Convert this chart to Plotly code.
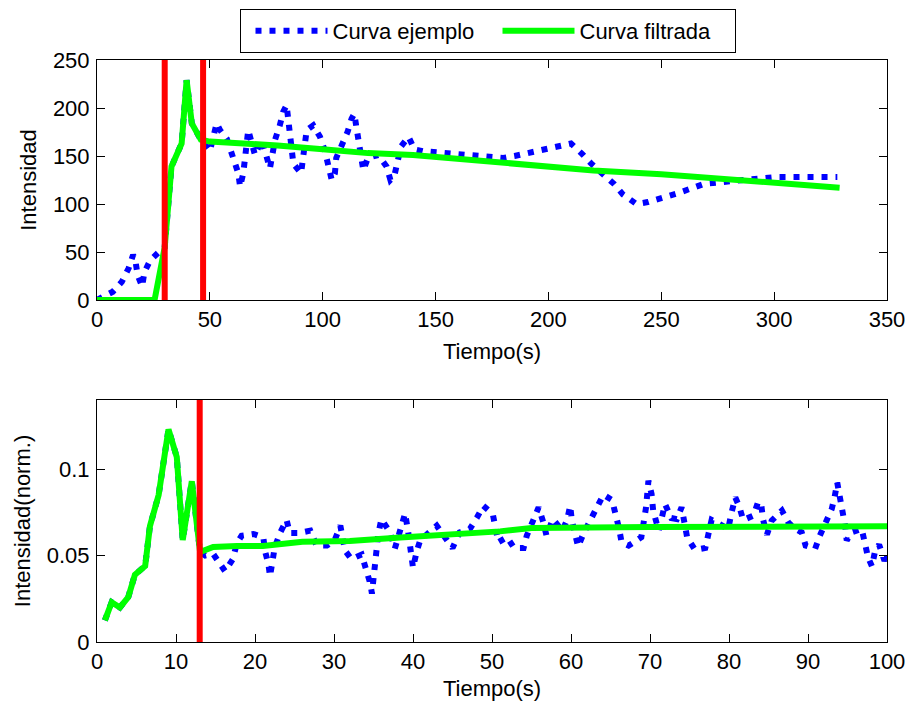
import plotly.graph_objects as go

# ---------------- data: top panel ----------------
top_raw_x = [0, 7, 11, 14, 16, 17, 18, 20, 21, 23.5, 27, 30, 33, 37.5, 39.7, 42, 46, 50, 53, 54.5,
             57.5, 61, 62.6, 63.4, 64.8, 65.6, 67, 70, 73, 76.6, 78.9, 81, 82.5, 84, 84.8, 85.5, 87,
             90.4, 91.4, 92.9, 95.8, 98.8, 101, 102.4, 104, 105.4, 106, 108.4, 111, 112.8, 114, 115,
             116, 117, 118, 120, 124.6, 128.3, 130, 131.7, 133, 134.7, 138, 140.6, 144.4, 160, 172,
             180, 185, 197, 210, 215, 219, 229, 233, 239, 244, 257, 269, 282, 301, 328]
top_raw_y = [0, 8.6, 19, 33, 47, 41, 26, 14, 29, 41, 49, 55, 139, 163, 229, 184, 167, 155, 184, 177,
             168, 146, 132, 118, 132, 148, 177, 151, 167, 137, 167, 182, 196, 203, 187, 172, 142,
             132, 148, 177, 182, 170, 155, 141, 125, 132, 148, 161, 175, 189, 194, 179,
             163, 148, 135, 148, 151, 139, 125, 129, 144, 160, 170, 157, 155, 152, 149,
             148, 150, 156, 163, 152, 142, 121, 110, 100, 102, 111, 121, 124, 128, 128]

top_filt_x = [0, 25.5, 30, 33, 37.5, 39.7, 42, 46, 50, 60, 80, 100, 120, 140, 160, 180, 200, 220,
              250, 280, 300, 329]
top_filt_y = [0, 0, 55, 139, 163, 229, 184, 167, 165, 164, 161, 157, 153, 151, 147, 143, 139, 135,
              131, 126, 123, 117]

top_marks = [30, 47]
top_yrange = [0, 250]
top_xticks = [0, 50, 100, 150, 200, 250, 300, 350]
top_yticks = [0, 50, 100, 150, 200, 250]

# ---------------- data: bottom panel ----------------
bot_raw_x = [1, 1.86, 2.9, 3.96, 4.8, 6.1, 6.7, 7.8, 9.05, 10.1, 10.85, 12, 13.05,
             13.7, 14.7, 15.6, 16.2, 17.2, 17.7, 18.3, 19.8, 21.05, 21.3, 21.7, 21.9, 22.5, 23.2, 24,
             24.4, 25.5, 27, 27.8, 29.1, 30.1, 30.8, 31.4, 32.2, 33.5, 34.1, 34.6, 34.8, 35.2, 35.6,
             36, 37.1, 37.7, 38.6, 39, 39.4, 39.8, 40, 40.5, 40.9, 43, 44.3, 45, 45.9, 47.2, 48.1,
             48.9, 50.1, 50.5, 50.8, 51.9, 52.8, 54, 54.4, 55.2, 55.9, 56.5, 56.9, 57.7, 58.9, 59.5,
             59.9, 60.1, 60.6, 60.9, 61.6, 62.4, 63.3, 64.1, 65.2, 65.7, 66.1, 66.4, 67.3, 68.3, 68.9,
             69.2, 69.5, 69.8, 70.2, 70.4, 71.1, 71.5, 71.9, 72.7, 73.4, 74, 74.4, 74.7, 75.7, 77,
             77.4, 77.8, 78.4, 79.9, 80.3, 80.8, 81.3, 81.8, 83.1, 83.7, 84.1, 84.3, 84.8, 85.4, 86.7,
             87.5, 88.4, 89.2, 89.7, 90.9, 91.5, 92.4, 93, 93.4, 93.7, 94, 94.4, 94.7, 94.9, 95.5,
             96.8, 97.2, 97.6, 98.1, 98.5, 99, 99.6, 100]
bot_raw_y = [0.0125, 0.023, 0.020, 0.026, 0.039, 0.044, 0.067, 0.085, 0.123, 0.107, 0.059, 0.093, 0.052,
             0.050, 0.051, 0.045, 0.041, 0.048, 0.057, 0.0615, 0.0625, 0.0605, 0.052, 0.045, 0.038,
             0.0548, 0.0634, 0.0706, 0.063, 0.063, 0.0644, 0.0558, 0.0558, 0.059, 0.0673, 0.0529,
             0.048, 0.0506, 0.0423, 0.0337, 0.028, 0.046, 0.0625, 0.071, 0.0634, 0.054, 0.0673,
             0.0744, 0.0634, 0.050, 0.043, 0.0529, 0.0587, 0.0673, 0.0596, 0.0544, 0.0634, 0.0654,
             0.072, 0.0788, 0.074, 0.0654, 0.0577, 0.0606, 0.0544, 0.0544, 0.0615, 0.0702, 0.0779,
             0.0692, 0.0615, 0.0711, 0.0644, 0.0706, 0.0788, 0.0706, 0.0615, 0.0552, 0.0629, 0.0706,
             0.0779, 0.0852, 0.0821, 0.074, 0.0654, 0.0577, 0.0558, 0.0587, 0.0606, 0.0692, 0.0779,
             0.0933, 0.0856, 0.076, 0.0644, 0.072, 0.0798, 0.0717, 0.0711, 0.0779, 0.0692, 0.0606,
             0.0533, 0.0544, 0.0625, 0.0706, 0.0692, 0.0654, 0.0744, 0.0836, 0.0783, 0.0706, 0.0731,
             0.0813, 0.0788, 0.0711, 0.0621, 0.0702, 0.076, 0.0692, 0.0654, 0.0634, 0.0558, 0.0539,
             0.0615, 0.0702, 0.0769, 0.0846, 0.0923, 0.0846, 0.0756, 0.0673, 0.0587, 0.0634, 0.0654,
             0.0567, 0.049, 0.0437, 0.0529, 0.0563, 0.0481, 0.048]

bot_filt_x = [1, 1.86, 2.9, 3.96, 4.8, 6.1, 6.7, 7.8, 9.05, 10.1, 10.85, 12, 13.05, 14.7, 17.7, 21,
              26, 32, 38.4, 45, 51, 55, 63.7, 70, 100]
bot_filt_y = [0.0125, 0.023, 0.020, 0.026, 0.039, 0.044, 0.067, 0.085, 0.123, 0.107, 0.059, 0.093,
              0.052, 0.055, 0.0555, 0.0555, 0.058, 0.0585, 0.0605, 0.062, 0.064, 0.066, 0.066, 0.0665,
              0.067]

bot_marks = [13]
bot_yrange = [0, 0.14]
bot_xticks = [0, 10, 20, 30, 40, 50, 60, 70, 80, 90, 100]
bot_yticks = [0, 0.05, 0.1]
bot_yticktext = ["0", "0.05", "0.1"]

legend_names = ["Curva ejemplo", "Curva filtrada"]
xlabel = "Tiempo(s)"
ylabel_top = "Intensidad"
ylabel_bot = "Intensidad(norm.)"

BLUE = "#0000FF"
GREEN = "#00FF00"
RED = "#FF0000"
FONT = "Liberation Sans, Arial, sans-serif"
FS = 22

fig = go.Figure()

def add_panel(xr, yr, xf, yf, marks, yrange, xa, ya, show):
    fig.add_trace(go.Scatter(x=xr, y=yr, mode="lines", name=legend_names[0], showlegend=show,
                             line=dict(color=BLUE, width=6, dash="6px,8px"), xaxis=xa, yaxis=ya))
    fig.add_trace(go.Scatter(x=xf, y=yf, mode="lines", name=legend_names[1], showlegend=show,
                             line=dict(color=GREEN, width=6), xaxis=xa, yaxis=ya))
    for m in marks:
        fig.add_trace(go.Scatter(x=[m, m], y=yrange, mode="lines", showlegend=False,
                                 line=dict(color=RED, width=6), xaxis=xa, yaxis=ya))

add_panel(top_raw_x, top_raw_y, top_filt_x, top_filt_y, top_marks, top_yrange, "x", "y", True)
add_panel(bot_raw_x, bot_raw_y, bot_filt_x, bot_filt_y, bot_marks, bot_yrange, "x2", "y2", False)

W, H = 907, 703
xdom = [97 / W, 887 / W]
axis_common = dict(showline=True, linecolor="black", linewidth=1, mirror="ticks", ticks="inside",
                   ticklen=8, tickcolor="black", showgrid=False, zeroline=False, automargin=False,
                   tickfont=dict(family=FONT, size=FS, color="black"))

fig.update_layout(
    template="none",
    width=W, height=H, margin=dict(l=0, r=0, t=0, b=0, autoexpand=False),
    paper_bgcolor="white", plot_bgcolor="white",
    font=dict(family=FONT, size=FS, color="black"),
    xaxis=dict(domain=xdom, anchor="y", range=[0, 350], tickvals=top_xticks,
               title=dict(text=xlabel, standoff=12, font=dict(size=FS)), **axis_common),
    yaxis=dict(domain=[1 - 300 / H, 1 - 60 / H], anchor="x", range=top_yrange,
               tickvals=top_yticks, ticklabelstandoff=2,
               title=dict(text=ylabel_top, standoff=10, font=dict(size=FS)), **axis_common),
    xaxis2=dict(domain=xdom, anchor="y2", range=[0, 100], tickvals=bot_xticks,
                title=dict(text=xlabel, standoff=7, font=dict(size=FS)), **axis_common),
    yaxis2=dict(domain=[1 - 642 / H, 1 - 400 / H], anchor="x2", range=bot_yrange,
                tickvals=bot_yticks, ticktext=bot_yticktext, ticklabelstandoff=2,
                title=dict(text=ylabel_bot, standoff=10, font=dict(size=FS)), **axis_common),
    legend=dict(orientation="h", x=487.5 / W, xanchor="center", y=1 - 9 / H, yanchor="top",
                bordercolor="black", borderwidth=1, bgcolor="white", indentation=10,
                font=dict(family=FONT, size=FS), itemwidth=72, entrywidth=150),
)

fig.write_html("out.html")
